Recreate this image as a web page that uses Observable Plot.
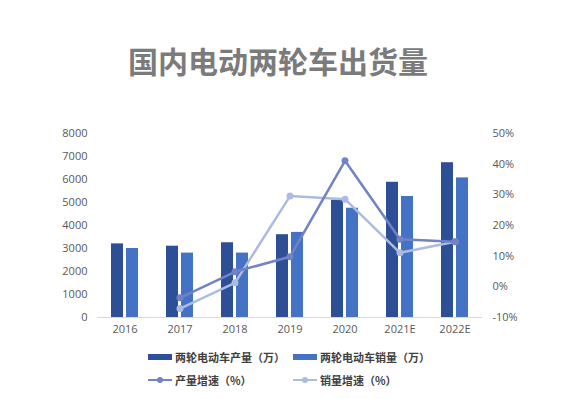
<!DOCTYPE html>
<html>
<head>
<meta charset="utf-8">
<script src="https://cdn.jsdelivr.net/npm/d3@7"></script>
<script src="https://cdn.jsdelivr.net/npm/@observablehq/plot@0.6"></script>
<style>
  html, body { margin: 0; padding: 0; background: #fff; }
  body { width: 566px; height: 399px; position: relative; overflow: hidden; font-family: "Open Sans", "Noto Sans CJK SC", sans-serif; }
  #title { position: absolute; top: 40px; left: 0; width: 556px; text-align: center; font-family: "Noto Sans CJK SC", sans-serif; font-weight: 700; font-size: 30px; line-height: 40px; color: #7b7b7b; }
  #chart { position: absolute; top: 120px; left: 0; }
  .leg { position: absolute; display: flex; align-items: center; font-family: "Noto Sans CJK SC", sans-serif; font-size: 11px; font-weight: 700; color: #404040; line-height: 14px; }
  .sw { display: inline-block; width: 24px; height: 6px; margin-right: 3px; }
  .ln { display: inline-block; position: relative; width: 24px; height: 8px; margin-right: 3px; }
  .ln .bar { position: absolute; left: 0; right: 0; top: 3px; height: 2px; }
  .ln .pt { position: absolute; left: 9px; top: 1px; width: 6px; height: 6px; border-radius: 50%; }
</style>
</head>
<body>
<div id="title">国内电动两轮车出货量</div>
<div id="chart"></div>
<div id="legend"></div>
<script>
const years = ["2016", "2017", "2018", "2019", "2020", "2021E", "2022E"];
const production = [3200, 3100, 3250, 3600, 5100, 5880, 6730];
const sales = [3000, 2800, 2800, 3700, 4750, 5260, 6070];
const prodGrowth = [null, -3.6, 4.9, 9.8, 41.1, 15.5, 14.7];
const salesGrowth = [null, -7.1, 1.3, 29.6, 28.6, 11.1, 14.7];
const leftTicks = [0, 1000, 2000, 3000, 4000, 5000, 6000, 7000, 8000];
const rightTicks = [-10, 0, 10, 20, 30, 40, 50];
const seriesNames = ["两轮电动车产量（万）", "两轮电动车销量（万）", "产量增速（%）", "销量增速（%）"];
const colors = ["#2c4f96", "#4472c4", "#7282c6", "#adbbe3"];

const yMax = 8000, pMin = -10, pMax = 50;
const toY = p => (p - pMin) / (pMax - pMin) * yMax;
const fromY = v => Math.round(v / yMax * (pMax - pMin) + pMin);

const rows = years.map((year, i) => ({
  year, production: production[i], sales: sales[i],
  pg: prodGrowth[i] == null ? null : toY(prodGrowth[i]),
  sg: salesGrowth[i] == null ? null : toY(salesGrowth[i])
}));
const pgRows = rows.filter(d => d.pg != null);
const sgRows = rows.filter(d => d.sg != null);

const plot = Plot.plot({
  width: 566,
  height: 225,
  marginTop: 13,
  marginBottom: 28,
  marginLeft: 97,
  marginRight: 84,
  style: { fontFamily: "'Open Sans', sans-serif", fontSize: "11px", color: "#595959", background: "transparent" },
  x: { domain: years, padding: 0, axis: null },
  y: { domain: [0, yMax], axis: null },
  marks: [
    Plot.ruleY([0], { stroke: "#d9d9d9", strokeWidth: 1 }),
    Plot.barY(rows, { x: "year", y: "production", fill: colors[0], insetLeft: 14, insetRight: 29 }),
    Plot.barY(rows, { x: "year", y: "sales", fill: colors[1], insetLeft: 29, insetRight: 14 }),
    Plot.lineY(sgRows, { x: "year", y: "sg", stroke: colors[3], strokeWidth: 2.5 }),
    Plot.dot(sgRows, { x: "year", y: "sg", fill: colors[3], r: 3.5 }),
    Plot.lineY(pgRows, { x: "year", y: "pg", stroke: colors[2], strokeWidth: 2.5 }),
    Plot.dot(pgRows, { x: "year", y: "pg", fill: colors[2], r: 3.5 }),
    Plot.axisY({ anchor: "left", ticks: leftTicks, tickSize: 0, tickPadding: 10, tickFormat: d => String(d), label: null }),
    Plot.axisY({ anchor: "right", ticks: rightTicks.map(toY), tickSize: 0, tickPadding: 10, tickFormat: v => fromY(v) + "%", label: null }),
    Plot.axisX({ anchor: "bottom", tickSize: 0, tickPadding: 8, label: null })
  ]
});
document.getElementById("chart").appendChild(plot);

const legend = document.getElementById("legend");
const legItems = [
  { x: 148, y: 350, type: "sw", c: colors[0], t: seriesNames[0] },
  { x: 293, y: 350, type: "sw", c: colors[1], t: seriesNames[1] },
  { x: 148, y: 373, type: "ln", c: colors[2], t: seriesNames[2] },
  { x: 293, y: 373, type: "ln", c: colors[3], t: seriesNames[3] }
];
for (const it of legItems) {
  const div = document.createElement("div");
  div.className = "leg";
  div.style.left = it.x + "px";
  div.style.top = it.y + "px";
  if (it.type === "sw") {
    div.innerHTML = `<span class="sw" style="background:${it.c}"></span><span>${it.t}</span>`;
  } else {
    div.innerHTML = `<span class="ln"><span class="bar" style="background:${it.c}"></span><span class="pt" style="background:${it.c}"></span></span><span>${it.t}</span>`;
  }
  legend.appendChild(div);
}
</script>
</body>
</html>
